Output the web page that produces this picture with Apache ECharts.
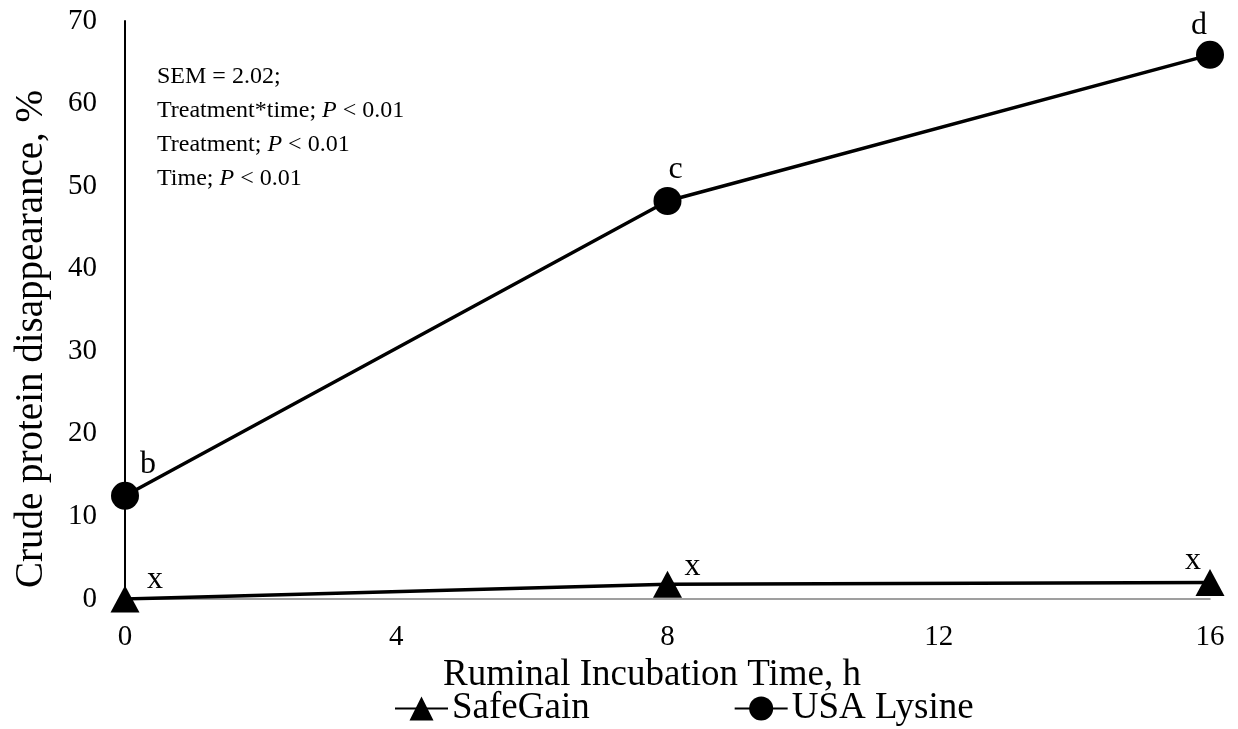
<!DOCTYPE html>
<html>
<head>
<meta charset="utf-8">
<script src="https://cdn.jsdelivr.net/npm/echarts@6/dist/echarts.min.js"></script>
<style>
  html, body { margin: 0; padding: 0; background: #fff; }
  #chart { width: 1238px; height: 729px; }
</style>
</head>
<body>
<div id="chart"></div>
<script>
// data
const hours = [0, 8, 16];
const safeGain = [0, 1.8, 2.0];
const usaLysine = [12.5, 48.2, 65.9];
const safeGainLetters = ['x', 'x', 'x'];
const usaLysineLetters = ['b', 'c', 'd'];
const xTicks = [0, 4, 8, 12, 16];
const yTicks = [0, 10, 20, 30, 40, 50, 60, 70];

const font = '"Liberation Serif", "Times New Roman", serif';

// label centre offsets from each point (letters sit like in the original)
const lysineOffsets = [[23, -31], [8, -31], [-11, -29]];
const safeOffsets = [[30, -19], [25, -18], [-17, -22]];

const chart = echarts.init(document.getElementById('chart'));

const makeData = (vals, letters, offsets) =>
  hours.map((h, i) => ({
    value: [h, vals[i]],
    label: { formatter: letters[i], offset: offsets[i] },
  }));

const letterLabel = {
  show: true,
  position: 'inside',
  fontFamily: font,
  fontSize: 32,
  color: '#000',
};

const option = {
  backgroundColor: '#fff',
  animation: false,
  textStyle: { fontFamily: font, color: '#000' },
  grid: { left: 125, right: 28, top: 21, bottom: 130 },
  legend: {
    top: 685,
    left: 389,
    itemWidth: 53,
    itemHeight: 30,
    itemGap: 144,
    textStyle: { fontFamily: font, fontSize: 37, color: '#000', padding: [0, 0, 0, -1] },
    data: ['SafeGain', 'USA Lysine'],
  },
  xAxis: {
    type: 'value',
    min: xTicks[0],
    max: xTicks[xTicks.length - 1],
    interval: 4,
    name: 'Ruminal Incubation Time, h',
    nameLocation: 'middle',
    nameGap: 41,
    nameTextStyle: { fontFamily: font, fontSize: 37, color: '#000', padding: [0, 31, 0, 0] },
    axisLine: { lineStyle: { color: '#808080', width: 1.5 } },
    axisTick: { show: false },
    splitLine: { show: false },
    axisLabel: { fontFamily: font, fontSize: 29, color: '#000', margin: 24 },
  },
  yAxis: {
    type: 'value',
    min: yTicks[0],
    max: yTicks[yTicks.length - 1],
    interval: 10,
    axisLine: { show: true, lineStyle: { color: '#000', width: 2 } },
    axisTick: { show: false },
    splitLine: { show: false },
    axisLabel: { fontFamily: font, fontSize: 29, color: '#000', margin: 28 },
  },
  graphic: [
    {
      type: 'text',
      x: 32,
      y: 339,
      rotation: Math.PI / 2,
      style: {
        text: 'Crude protein disappearance, %',
        font: '39px ' + font,
        fill: '#000',
        align: 'center',
        verticalAlign: 'middle',
      },
    },
    {
      type: 'text',
      left: 157,
      top: 60,
      style: {
        text: 'SEM = 2.02;\nTreatment*time; {i|P} < 0.01\nTreatment; {i|P} < 0.01\nTime; {i|P} < 0.01',
        font: '24px ' + font,
        fill: '#000',
        lineHeight: 34,
        rich: {
          i: { fontStyle: 'italic', fontSize: 24, fontFamily: font, lineHeight: 34 },
        },
      },
    },
  ],
  series: [
    {
      name: 'SafeGain',
      type: 'line',
      data: makeData(safeGain, safeGainLetters, safeOffsets),
      symbol: 'triangle',
      symbolSize: [29, 27],
      lineStyle: { color: '#000', width: 3.5 },
      itemStyle: { color: '#000' },
      label: letterLabel,
      z: 3,
    },
    {
      name: 'USA Lysine',
      type: 'line',
      data: makeData(usaLysine, usaLysineLetters, lysineOffsets),
      symbol: 'circle',
      symbolSize: 28,
      lineStyle: { color: '#000', width: 3.5 },
      itemStyle: { color: '#000' },
      label: letterLabel,
      z: 3,
    },
  ],
};

chart.setOption(option);
</script>
</body>
</html>
